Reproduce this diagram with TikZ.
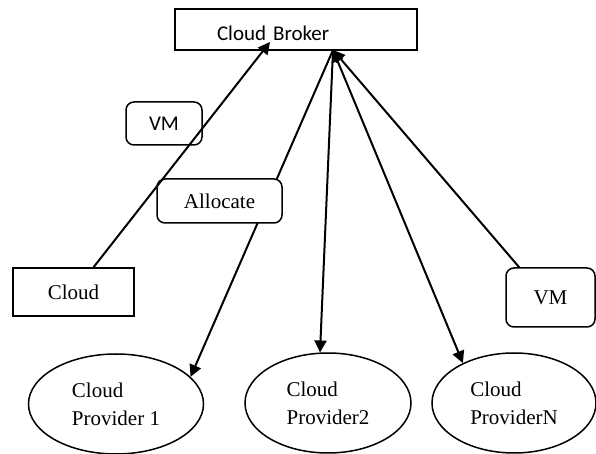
\documentclass[tikz,border=0pt]{standalone}
\usepackage{fontspec}
\setmainfont{Liberation Serif}
\newfontfamily\calib{Carlito}
\usetikzlibrary{arrows.meta,shapes.geometric}

\begin{document}
\begin{tikzpicture}[x=0.5pt,y=-0.5pt,line width=0.75pt,
  serif/.style={font=\fontsize{10.5}{14}\selectfont},sans/.style={font=\calib\fontsize{10.5}{14}\selectfont},
  box/.style={draw,serif,inner sep=0pt},tag/.style={box,rounded corners=4pt,fill=white},
  provider/.style={draw,ellipse,serif,inner sep=0pt,minimum height=50pt,align=left},
  arr/.style={-{Triangle[length=6pt,width=6pt]},line width=1pt},arrboth/.style={{Triangle[length=6pt,width=6pt]}-{Triangle[length=6pt,width=6pt]},line width=1pt}]
      \useasboundingbox (0,0) rectangle (596,454);
      \node[box,sans,minimum height=20.5pt,text width=79pt,text height=11pt,text depth=0pt,inner xsep=21pt,align=left] (broker) at (296,29.5) {Cloud Broker};
      \node[box,minimum width=60.5pt,minimum height=24pt] (cloud) at (73.5,292) {Cloud};
      \node[tag,sans,minimum width=38pt,minimum height=21.5pt] (vml) at (164,123.5) {VM};
      \node[tag,minimum width=44.5pt,minimum height=29.5pt] (vmr) at (550.5,297.5) {VM};
      \node[provider,minimum width=87.5pt] (p1) at (116,404) {Cloud\\Provider 1}; \node[provider,minimum width=83pt] (p2) at (328,403) {Cloud\\Provider2}; \node[provider,minimum width=82pt] (pn) at (514,403) {Cloud\\ProviderN};
      \coordinate (hub) at (333,50); \coordinate (bin) at (270,42);
      \draw[arr] (hub)--(p1.20);
      \node[tag,minimum width=62.5pt,minimum height=22pt] (alloc) at (219.5,201) {Allocate};
      \draw[arr] (hub)--(p2.99); \draw[arrboth] (hub)--(pn.142); \draw[arr] (vmr.136)--(hub);
      \draw[arr] (cloud.51)--(bin);
    \end{tikzpicture}
\end{document}
